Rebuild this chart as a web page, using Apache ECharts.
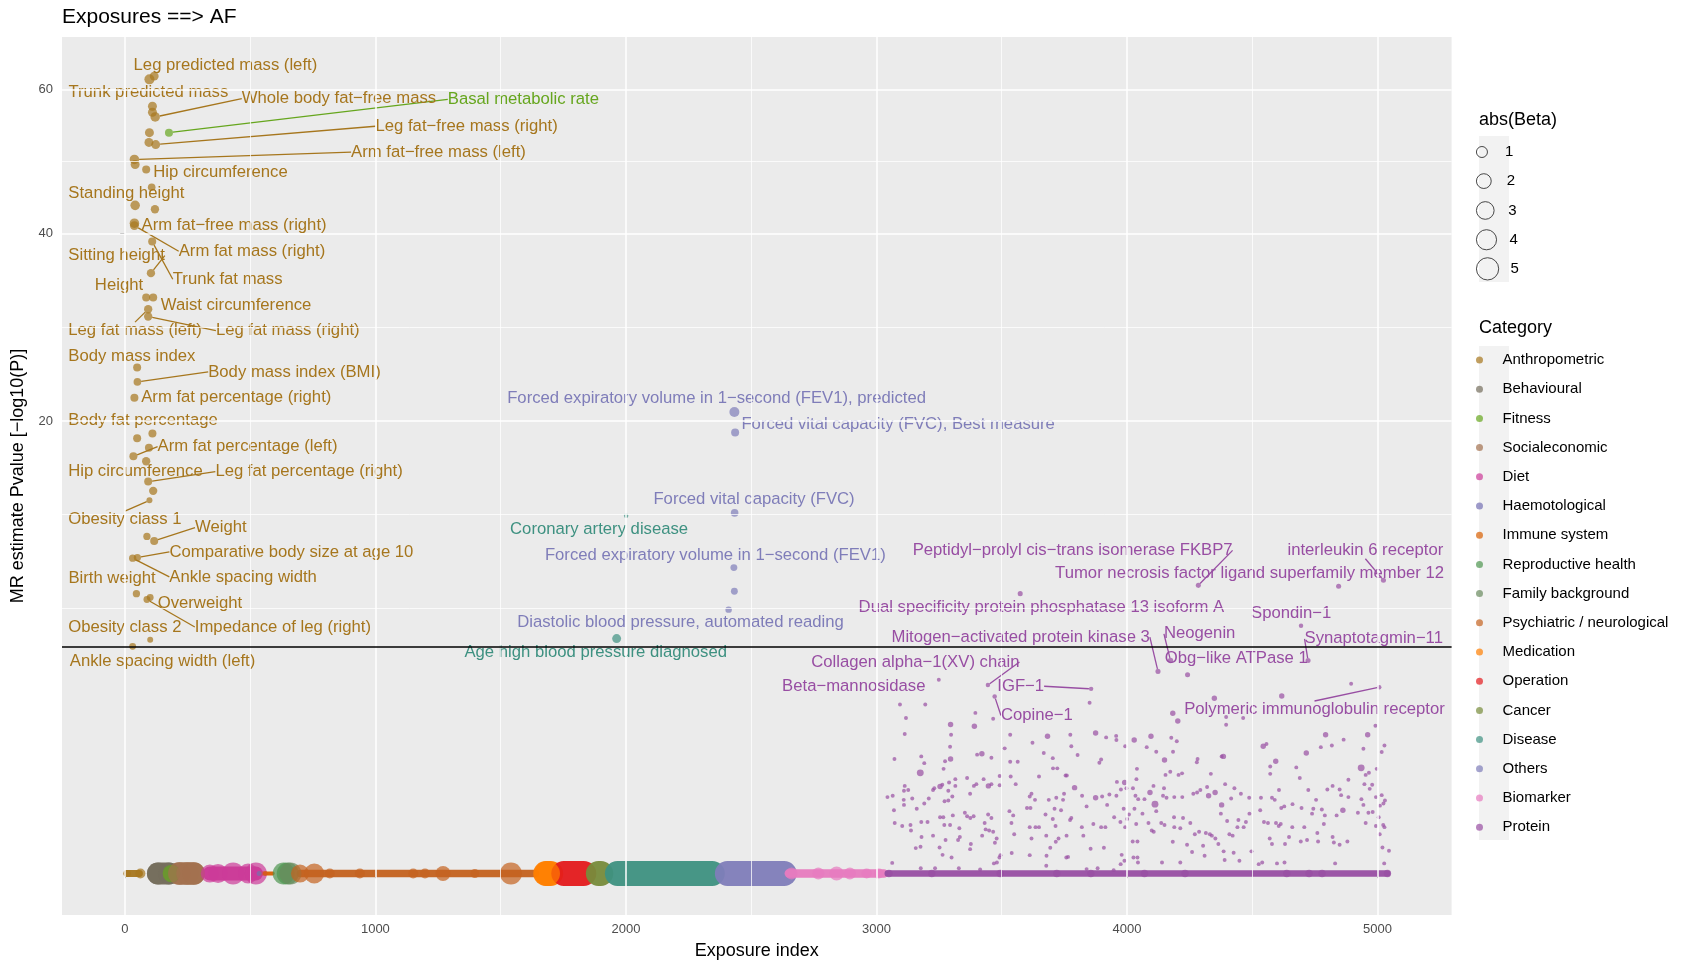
<!DOCTYPE html>
<html><head><meta charset="utf-8">
<script src="https://cdn.jsdelivr.net/npm/echarts@6/dist/echarts.min.js"></script>
<style>html,body{margin:0;padding:0;background:#fff}#chart{width:1690px;height:960px}</style>
</head><body><div id="chart"></div>
<script>
// ---------------- DATA ----------------
const chartTitle = 'Exposures ==> AF';
const categories = ['Anthropometric','Behavioural','Fitness','Socialeconomic','Diet','Haemotological','Immune system','Reproductive health','Family background','Psychiatric / neurological','Medication','Operation','Cancer','Disease','Others','Biomarker','Protein'];
const categoryColors = ['#A6761D','#756D5C','#66A61E','#A2714E','#CC3A98','#7570B3','#D95F02','#4F9550','#6A8A5E','#C4621F','#FF7F00','#E41A1C','#778B3B','#3E9181','#7F7DB9','#E77BBF','#984EA3'];
const xTickLabels = [0, 1000, 2000, 3000, 4000, 5000];
const yTickLabels = [20, 40, 60];
const sizeBreaks = [1, 2, 3, 4, 5];
const threshold = 5; // -log10(P) significance line

// [exposure index, -log10(P), abs(Beta), label]
const anthropometric = [
 [117,62.1,0.6,'Leg predicted mass (left)'],[98,61.6,0.8,''],[110,57.5,0.6,'Trunk predicted mass'],[110,56.6,0.6,''],
 [121,55.9,0.7,'Whole body fat\u2212free mass'],[98,53.6,0.6,''],[96,52.2,0.6,''],[123,51.9,0.6,'Leg fat\u2212free mass (right)'],
 [38,49.8,0.7,'Arm fat\u2212free mass (left)'],[41,49.1,0.6,''],[85,48.4,0.45,'Hip circumference'],[107,46.0,0.4,''],
 [41,43.6,0.7,'Standing height'],[120,43.1,0.5,''],[38,41.3,0.7,'Arm fat\u2212free mass (right)'],[38,41.0,0.6,'Arm fat mass (right)'],
 [109,39.0,0.45,'Trunk fat mass'],[104,35.2,0.5,'Sitting height'],[85,32.4,0.45,'Height'],[113,32.4,0.45,'Waist circumference'],
 [93,31.1,0.5,'Leg fat mass (left)'],[93,30.3,0.5,'Leg fat mass (right)'],[49,25.0,0.45,'Body mass index'],[50,23.6,0.4,'Body mass index (BMI)'],
 [38,22.1,0.45,'Arm fat percentage (right)'],[49,18.5,0.45,'Body fat percentage'],[110,18.9,0.45,''],[96,17.7,0.45,''],
 [34,17.0,0.45,'Arm fat percentage (left)'],[85,16.6,0.5,''],[93,15.0,0.45,'Leg fat percentage (right)'],[113,14.3,0.5,'Hip circumference'],
 [98,13.6,0.2,'Obesity class 1'],[117,10.8,0.45,'Weight'],[88,11.1,0.35,''],[50,9.75,0.35,'Comparative body size at age 10'],
 [31,9.71,0.35,'Ankle spacing width'],[46,7.65,0.35,'Birth weight'],[101,7.44,0.3,'Overweight'],[88,7.33,0.3,'Impedance of leg (right)'],
 [101,5.34,0.2,'Obesity class 2'],[31,5.04,0.3,'Ankle spacing width (left)']
];
const fitness = [[176,53.6,0.45,'Basal metabolic rate']];
const others = [
 [2433,20.8,0.8,'Forced expiratory volume in 1\u2212second (FEV1), predicted'],
 [2436,19.0,0.45,'Forced vital capacity (FVC), Best measure'],
 [2434,12.7,0.4,'Forced vital capacity (FVC)'],
 [2431,9.14,0.3,'Forced expiratory volume in 1\u2212second (FEV1)'],
 [2433,7.78,0.3,''],
 [2410,6.80,0.25,'Diastolic blood pressure, automated reading']
];
const disease = [
 [2001,12.5,0.08,'Coronary artery disease'],
 [1963,5.39,0.6,'Age high blood pressure diagnosed']
];
const proteinLabelled = [
 [4285,8.11,0.12,'Peptidyl\u2212prolyl cis\u2212trans isomerase FKBP7'],
 [4845,8.06,0.12,'Tumor necrosis factor ligand superfamily member 12'],
 [5024,8.40,0.12,'interleukin 6 receptor'],
 [3574,7.65,0.12,'Dual specificity protein phosphatase 13 isoform A'],
 [4695,6.0,0.08,'Spondin\u22121'],
 [4723,4.43,0.12,'Synaptotagmin\u221211'],
 [4124,3.99,0.12,'Mitogen\u2212activated protein kinase 3'],
 [4174,4.43,0.15,'Neogenin'],
 [4242,3.86,0.12,'Obg\u2212like ATPase 1'],
 [3445,3.47,0.08,'Collagen alpha\u22121(XV) chain'],
 [3249,3.67,0.05,'Beta\u2212mannosidase'],
 [3857,3.33,0.08,'IGF\u22121'],
 [3472,3.06,0.08,'Copine\u22121'],
 [5007,3.39,0.08,'Polymeric immunoglobulin receptor']
];
// unlabelled protein exposures [index, -log10(P), abs(Beta)]
const proteinScatter = [
 [3094,2.79,.05],[3195,2.79,.05],[3118,2.36,.05],[3113,1.90,.05],[3072,1.28,.05],[3179,1.34,.05],[3191,1.19,.05],[3175,0.99,.3],
 [3296,2.17,.15],[3298,1.88,.05],[3294,1.57,.05],[3296,1.28,.15],[3274,1.23,.05],[3268,1.07,.05],[3395,2.52,.05],[3391,2.12,.15],
 [3421,1.40,.15],[3402,1.38,.05],[3459,1.31,.05],[3466,2.34,.05],[3534,1.88,.05],[3512,1.53,.05],[3534,1.22,.05],[3564,1.22,.05],
 [3623,1.67,.05],[3683,1.84,.15],[3668,1.42,.05],[3704,1.30,.05],[3705,1.08,.05],[3722,1.08,.05],[3774,1.88,.05],[3778,1.58,.05],
 [3803,1.37,.05],[3851,2.85,.05],[3875,1.93,.15],[3897,1.27,.05],[3890,1.20,.05],[3917,1.81,.05],[3957,1.85,.05],[3958,1.74,.05],
 [3993,1.58,.05],[4029,1.74,.15],[4040,1.07,.05],[4079,1.56,.05],[4096,1.84,.15],[4117,1.45,.05],[4150,1.26,.15],[4177,1.80,.05],
 [4199,1.71,.05],[4184,1.45,.05],[4183,2.51,.15],[4203,2.27,.15],[4173,1.01,.05],[4154,0.95,.05],[4206,0.95,.05],[4220,0.98,.05],
 [4282,1.28,.05],[4279,1.21,.05],[4349,3.00,.15],[4396,2.39,.05],[4396,2.16,.05],[4464,2.36,.05],[4385,1.34,.15],[4378,1.34,.05],
 [4335,0.97,.05],[4544,1.58,.15],[4557,1.64,.05],[4594,1.23,.15],[4572,1.12,.05],[4572,0.97,.05],[4618,3.08,.15],[4676,1.10,.05],
 [4690,0.89,.05],[4716,1.42,.15],[4774,1.56,.05],[4793,1.88,.15],[4818,1.60,.05],[4865,1.75,.05],[4895,3.52,.05],[4961,1.88,.15],
 [4944,1.52,.05],[4992,2.13,.05],[4935,1.09,.3],[4953,0.95,.05],[4966,0.99,.05],[4997,1.07,.05],[5017,1.44,.05],[5028,1.60,.05],
 [3044,.57,.05],[3065,.59,.05],[3113,.75,.05],[3110,.67,.05],[3127,.68,.05],[3109,.53,.05],[3110,.46,.05],[3143,.55,.05],
 [3161,.41,.05],[3191,.48,.05],[3209,.55,.05],[3226,.68,.05],[3231,.71,.05],[3254,.74,.15],[3263,.77,.05],[3287,.67,.05],
 [3272,.51,.05],[3287,.52,.05],[3303,.58,.05],[3315,.87,.05],[3315,.75,.05],[3290,.81,.05],[3362,.89,.05],[3374,.62,.05],
 [3389,.75,.05],[3399,.78,.05],[3428,.87,.05],[3447,.75,.15],[3459,.78,.05],[3492,.93,.05],[3492,.76,.05],[3536,.92,.05],
 [3556,.78,.05],[3546,.33,.05],[3531,.38,.05],[3612,.58,.05],[3619,.62,.05],[3633,.53,.05],[3649,.92,.05],[3601,.42,.05],
 [3615,.42,.05],[3688,.53,.05],[3718,.56,.05],[3711,.41,.05],[3745,.53,.05],[3755,.94,.05],[3749,.62,.05],[3760,.94,.05],
 [3791,.72,.15],[3821,.59,.05],[3839,.44,.05],[3875,.56,.15],[3901,.58,.05],[3921,.46,.05],[3930,.61,.05],[3958,.59,.05],
 [3960,.82,.05],[3991,.81,.15],[3998,.71,.05],[3976,.69,.05],[4024,.71,.05],[3987,.41,.05],[4034,.59,.05],[4038,.87,.05],
 [4030,.41,.05],[4045,.54,.05],[4070,.54,.05],[4092,.64,.15],[4112,.47,.3],[4106,.75,.05],[4148,.71,.05],[4158,.56,.05],
 [4144,.59,.05],[4189,.57,.05],[4221,.57,.05],[4265,.62,.05],[4280,.64,.05],[4293,.68,.05],[4326,.59,.15],[4320,.73,.05],
 [4352,.64,.15],[4378,.46,.15],[4392,.78,.05],[4416,.55,.05],[4429,.71,.05],[4455,.62,.05],[4488,.56,.05],[4535,.56,.05],
 [4579,.56,.05],[4590,.53,.05],[4607,.68,.05],[4616,.42,.05],[4628,.44,.05],[4661,.47,.05],[4697,.42,.05],[4724,.68,.05],
 [4744,.41,.05],[4755,.53,.05],[4778,.40,.05],[4800,.69,.05],[4821,.75,.05],[4837,.33,.05],[4849,.69,.05],[4855,.60,.05],
 [4884,.86,.05],[4884,.57,.05],[4862,.39,.15],[4936,.54,.05],[4948,.78,.05],[4944,.46,.05],[4969,.70,.05],[4979,.77,.05],
 [4994,.57,.05],[5010,.45,.05],[5017,.60,.05],[5030,.52,.05],[5024,.48,.05],
 [3070,.39,.05],[3073,.25,.05],[3103,.22,.05],[3136,.23,.05],[3138,.18,.05],[3157,.063,.05],[3179,.26,.05],[3180,.13,.05],
 [3176,.070,.05],[3204,.26,.05],[3226,.14,.05],[3252,.066,.05],[3254,.31,.05],[3267,.31,.05],[3271,.23,.05],[3276,.11,.05],
 [3264,.034,.05],[3294,.23,.05],[3300,.025,.05],[3305,.33,.05],[3326,.11,.05],[3331,.20,.05],[3333,.13,.05],[3353,.36,.05],
 [3362,.32,.05],[3375,.30,.05],[3388,.32,.05],[3377,.085,.05],[3374,.058,.05],[3422,.14,.05],[3432,.25,.05],[3436,.19,.05],
 [3446,.34,.05],[3459,.30,.05],[3450,.18,.05],[3466,.17,.05],[3473,.092,.05],[3480,.12,.05],[3481,.012,.05],[3491,.025,.05],
 [3540,.041,.05],[3550,.15,.05],[3539,.25,.05],[3612,.21,.05],[3635,.21,.05],[3619,.12,.05],[3649,.21,.05],[3678,.14,.05],
 [3675,.34,.05],[3679,.031,.05],[3694,.065,.05],[3704,.29,.05],[3715,.22,.05],[3716,.099,.05],[3727,.12,.05],[3737,.39,.05],
 [3759,.14,.05],[3765,.027,.05],[3773,.28,.05],[3778,.30,.05],[3820,.21,.05],[3826,.14,.05],[3855,.060,.05],[3866,.24,.05],
 [3897,.21,.05],[3908,.065,.05],[3914,.21,.05],[3949,.31,.05],[3974,.26,.05],[3979,.034,.05],[3993,.21,.05],[4001,.29,.05],
 [4008,.34,.05],[4023,.10,.05],[4037,.24,.05],[4042,.10,.05],[4042,.025,.05],[4062,.35,.05],[4086,.25,.05],[4099,.18,.05],
 [4107,.17,.05],[4117,.38,.05],[4137,.25,.05],[4150,.23,.05],[4183,.099,.05],[4188,.31,.05],[4189,.21,.05],[4213,.20,.05],
 [4224,.30,.05],[4240,.081,.05],[4253,.25,.05],[4260,.045,.05],[4271,.15,.05],[4288,.17,.05],[4304,.075,.05],[4315,.16,.05],
 [4331,.15,.05],[4339,.14,.05],[4353,.12,.05],[4365,.085,.05],[4375,.35,.05],[4386,.048,.05],[4400,.27,.05],[4409,.15,.05],
 [4422,.14,.05],[4426,.042,.05],[4441,.21,.05],[4445,.28,.05],[4466,.21,.05],[4475,.26,.05],[4489,.35,.05],[4497,.048,.05],
 [4532,.39,.05],[4547,.26,.05],[4563,.25,.05],[4570,.12,.05],[4579,.085,.05],[4595,.25,.05],[4606,.22,.05],[4614,.24,.05],
 [4631,.085,.05],[4647,.13,.05],[4660,.21,.05],[4694,.10,.05],[4708,.21,.05],[4719,.11,.05],[4739,.35,.05],[4760,.16,.05],
 [4763,.10,.05],[4786,.24,.05],[4790,.33,.05],[4821,.13,.05],[4826,.094,.05],[4849,.081,.05],[4880,.10,.05],[4922,.36,.05],
 [4953,.25,.05],[4964,.36,.05],[4981,.37,.05],[4994,.22,.05],[5005,.31,.05],[5009,.15,.05],[5020,.066,.05],[5023,.23,.05],
 [5028,.21,.05],[5046,.051,.05],
 [3063,.011,.05],[3177,.0028,.05],[3234,.0028,.05],[3329,.0028,.05],[3414,.0016,.05],[3469,.010,.05],[3495,.033,.05],[3612,.033,.05],
 [3678,.0058,.05],[3758,.025,.05],[3839,.0019,.05],[3883,.0028,.05],[3947,.0011,.05],[3975,.0086,.05],[3990,.016,.05],[4026,.025,.05],
 [4044,.012,.05],[4140,.012,.05],[4213,.012,.05],[4310,.031,.05],[4390,.018,.05],[4449,.016,.05],[4526,.0086,.05],[4540,.012,.05],
 [4599,.010,.05],[4629,.012,.05],[4831,.010,.05],[5027,.010,.05]
];
// dense runs of exposures with -log10(P) ~ 0: [category index, first index, last index, typical abs(Beta)]
const baselineRuns = [
 [0,8,58,0.31],[1,132,176,4.88],[3,217,275,5.07],[4,339,523,1.77],[6,540,590,0.05],[9,700,1640,0.36],
 [10,1680,1700,6.44],[11,1752,1832,6.44],[12,1890,1900,6.44],[13,1966,2345,6.44],[14,2405,2632,6.44],
 [15,2650,3030,0.5],[16,3045,5040,0.24]
];
// individual large-beta exposures at -log10(P) ~ 0: [category index, index, abs(Beta)]
const baselineBlobs = [
 [0,10,0.31],[0,62,0.79],[1,132,4.88],[1,176,4.88],[2,186,3.0],[3,217,5.07],[3,250,5.07],[3,275,5.07],
 [4,339,3.13],[4,372,3.53],[4,432,4.88],[4,492,3.96],[4,523,4.88],[5,536,0.12],[6,560,0.1],
 [7,634,4.88],[7,650,4.88],[8,661,4.88],[9,699,3.13],[9,756,3.96],[9,818,0.79],[9,938,0.79],[9,1151,0.79],
 [9,1198,0.79],[9,1270,2.07],[9,1397,0.61],[9,1541,4.88],[10,1687,6.44],
 [15,2661,1.23],[15,2768,1.23],[15,2841,1.77],[15,2894,1.23],[15,2961,0.79],[15,3010,0.79],
 [16,3050,0.36],[16,3221,0.36],[16,3494,0.36],[16,3720,0.36],[16,3856,0.36],[16,4070,0.36],[16,4232,0.36],
 [16,4638,0.36],[16,4727,0.36],[16,4779,0.36],[16,5040,0.36]
];

// ---------------- LABEL LAYOUT (pixel offsets of label start from the point: dx, dy, segment) ----------------
const anthroLabelPos = [
 [-20.6,-11,0],null,[-84,-13.4,0],null,[86.6,-18.3,1],null,null,[219.8,-18.3,1],[216.7,-7.3,1],null,[7.1,3.3,0],null,
 [-66.8,-11.7,0],null,[7.2,1.7,0],[44.3,25.7,1],[20.6,37.7,1],[-82.6,-17.6,1],[-51.3,-11.7,0],[7.6,8,0],[-79.9,21.4,1],
 [67.7,14,1],[-68.8,-11.6,0],[70.8,-10,1],[6.8,0,0],[-68.8,-17.6,0],null,null,[24.2,-9.7,1],null,[67.2,-10,1],[-85,-19.3,0],
 [-81.1,19.3,1],[40.8,-13.4,1],null,[32,-5.6,1],[36.7,18.7,1],[-68,-15,0],[7.5,5.4,0],[47.9,27.4,1],[-81.9,-12.6,0],[-62.9,14.7,0]
];
const fitnessLabelPos = [[278.8,-33.3,1]];
const othersLabelPos = [[-227.2,-13.4,0],[6.3,-8,0],[-81.2,-13.3,0],[-189,-12.3,0],null,[-211.4,13,0]];
const diseaseLabelPos = [[-116.1,14,0],[-152.2,13.4,0]];
const proteinLabelPos = [[-285.7,-35,1],[-283.5,-12.7,0],[-96,-30,1],[-161.6,13.4,0],[-50,-12,0],[-3.5,-21.7,1],[-266.5,-34.3,1],
 [-6.6,-26.7,1],[-22.8,-16,0],[-176.7,-23,1],[-156.7,6.7,0],[-93.8,-2.6,1],[6.3,19,1],[-195,22.3,1]];

// ---------------- BUILD ----------------
const FONT = '"Liberation Sans", Arial, Helvetica, sans-serif';
const T = v => Math.sqrt(Math.max(v, 0));            // sqrt transform of the y scale
const sizeOf = b => 1.9 + 9.1 * Math.sqrt(b);         // abs(Beta) -> symbol diameter
const X_MIN = -251, X_MAX = 5296, Y_MIN = -0.41, Y_MAX = 8.267;

function minorBreaks(b, lo, hi) {
  const bd = b[1] - b[0];
  const ext = [b[0] - bd].concat(b, [b[b.length - 1] + bd]);
  const out = [];
  for (let i = 0; i < ext.length; i++) {
    out.push(ext[i]);
    if (i < ext.length - 1) out.push((ext[i] + ext[i + 1]) / 2);
  }
  return out.filter(v => v > lo && v < hi && !b.some(m => Math.abs(m - v) < 1e-9));
}
const xMajor = xTickLabels.slice();
const yMajor = yTickLabels.map(T);
const xMinor = minorBreaks(xMajor, X_MIN, X_MAX);
const yMinor = minorBreaks(yMajor, Y_MIN, Y_MAX);

const gridLines = [];
xMinor.forEach(v => gridLines.push({ xAxis: v, lineStyle: { width: 0.75 } }));
yMinor.forEach(v => gridLines.push({ yAxis: v, lineStyle: { width: 0.75 } }));
xMajor.forEach(v => gridLines.push({ xAxis: v, lineStyle: { width: 1.5 } }));
yMajor.forEach(v => gridLines.push({ yAxis: v, lineStyle: { width: 1.5 } }));

const series = [];
series.push({
  type: 'scatter', name: '_grid', data: [], silent: true, z: 1,
  markLine: { silent: true, symbol: 'none', animation: false, label: { show: false },
    lineStyle: { color: '#FFFFFF', type: 'solid' }, emphasis: { disabled: true }, data: gridLines }
});
series.push({
  type: 'custom', name: '_baseline', data: baselineRuns, z: 2, silent: true, clip: true,
  renderItem: function (params, api) {
    const c = api.value(0), a = api.value(1), b = api.value(2), beta = api.value(3);
    const p1 = api.coord([a, 0]), p2 = api.coord([b, 0]);
    return { type: 'line', shape: { x1: p1[0], y1: p1[1], x2: p2[0], y2: p2[1] },
      style: { stroke: categoryColors[c], lineWidth: sizeOf(beta), lineCap: 'round', opacity: 0.95 } };
  }
});

const labelled = { 0: [anthropometric, anthroLabelPos], 2: [fitness, fitnessLabelPos], 13: [disease, diseaseLabelPos],
  14: [others, othersLabelPos], 16: [proteinLabelled, proteinLabelPos] };
const labelPosBySeries = {};

categories.forEach((cat, ci) => {
  const color = categoryColors[ci];
  const data = [], pos = [];
  baselineBlobs.filter(b => b[0] === ci).forEach(b => { data.push({ value: [b[1], 0, b[2]] }); pos.push(null); });
  if (ci === 16) proteinScatter.forEach(p => { data.push({ value: [p[0], T(p[1]), p[2]] }); pos.push(null); });
  if (labelled[ci]) {
    const pts = labelled[ci][0], lp = labelled[ci][1];
    pts.forEach((p, i) => {
      const has = !!p[3];
      data.push({ value: [p[0], T(p[1]), p[2]], name: p[3] || '',
        label: { show: has }, labelLine: { show: !!(has && lp[i] && lp[i][2]) } });
      pos.push(has ? lp[i] : null);
    });
  }
  labelPosBySeries[series.length] = pos;
  series.push({
    type: 'scatter', name: cat, data: data, z: 3,
    symbol: 'circle',
    symbolSize: v => sizeOf(v[2]),
    itemStyle: { color: color, opacity: 0.7 },
    emphasis: { disabled: true },
    label: { show: false, formatter: '{b}', color: color, opacity: 1, fontSize: 16.7, fontFamily: FONT },
    labelLine: { show: false, lineStyle: { color: color, width: 1.3, opacity: 1 } },
    labelLayout: function (p) {
      const arr = labelPosBySeries[p.seriesIndex];
      const off = arr && arr[p.dataIndex];
      if (!off) return {};
      return { x: p.rect.x + p.rect.width / 2 + off[0], y: p.rect.y + p.rect.height / 2 + off[1],
        align: 'left', verticalAlign: 'middle' };
    }
  });
});

series.push({
  type: 'scatter', name: '_threshold', data: [], silent: true, z: 4,
  markLine: { silent: true, symbol: 'none', animation: false, label: { show: false }, emphasis: { disabled: true },
    lineStyle: { color: '#000000', type: 'solid', width: 1.6 }, data: [{ yAxis: T(threshold) }] }
});
sizeBreaks.forEach(s => series.push({ type: 'scatter', name: String(s), data: [] }));

const legends = [{
  data: categories.map(n => ({ name: n })), orient: 'vertical', left: 1476, top: 351, padding: 0,
  itemWidth: 36, itemHeight: 7, itemGap: 11.2, icon: 'circle', selectedMode: false,
  textStyle: { fontSize: 15, lineHeight: 18, color: '#000', fontFamily: FONT }
}];
sizeBreaks.forEach((s, i) => {
  const d = sizeOf(s), h = Math.max(d, 18), cy = 152 + 29.1 * i;
  legends.push({
    data: [{ name: String(s), icon: 'circle', itemStyle: { color: 'rgba(0,0,0,0)', borderColor: '#333', borderWidth: 0.9, opacity: 1 } }],
    orient: 'vertical', left: 1476, top: cy - h / 2, padding: 0, itemWidth: 36, itemHeight: d,
    selectedMode: false, textStyle: { fontSize: 15, lineHeight: 18, color: '#000', fontFamily: FONT }
  });
});

const option = {
  animation: false,
  backgroundColor: '#FFFFFF',
  textStyle: { fontFamily: FONT },
  title: [
    { text: chartTitle, left: 62, top: 5, padding: 0, textStyle: { fontSize: 21, lineHeight: 25, fontWeight: 'normal', color: '#000', fontFamily: FONT } },
    { text: 'abs(Beta)', left: 1479, top: 109.7, padding: 0, textStyle: { fontSize: 18, lineHeight: 20, fontWeight: 'normal', color: '#000', fontFamily: FONT } },
    { text: 'Category', left: 1479, top: 318.5, padding: 0, textStyle: { fontSize: 18, lineHeight: 20, fontWeight: 'normal', color: '#000', fontFamily: FONT } }
  ],
  graphic: [
    { type: 'rect', shape: { x: 1479, y: 136, width: 30, height: 146 }, style: { fill: '#F2F2F2' }, z: 0, silent: true },
    { type: 'rect', shape: { x: 1479, y: 346, width: 30, height: 494 }, style: { fill: '#F2F2F2' }, z: 0, silent: true }
  ],
  legend: legends,
  grid: { left: 62, right: 238.4, top: 37, bottom: 45, show: true, backgroundColor: '#EBEBEB', borderWidth: 0,
    containLabel: false, outerBoundsMode: 'none' },
  xAxis: {
    type: 'value', min: X_MIN, max: X_MAX,
    name: 'Exposure index', nameLocation: 'middle', nameGap: 23.5,
    nameTextStyle: { fontSize: 18, lineHeight: 20, color: '#000', fontFamily: FONT },
    axisLine: { show: false },
    axisTick: { show: true, customValues: xTickLabels, length: 4.7, lineStyle: { color: '#333', width: 1 } },
    axisLabel: { customValues: xTickLabels, formatter: v => String(v), color: '#4D4D4D', fontSize: 13, margin: 8, fontFamily: FONT },
    splitLine: { show: false }, minorSplitLine: { show: false }
  },
  yAxis: {
    type: 'value', min: Y_MIN, max: Y_MAX,
    name: 'MR estimate Pvalue [\u2212log10(P)]', nameLocation: 'middle', nameGap: 30.4, nameRotate: 90,
    nameTextStyle: { fontSize: 18, lineHeight: 20, color: '#000', fontFamily: FONT },
    axisLine: { show: false },
    axisTick: { show: true, customValues: yMajor, length: 4.7, lineStyle: { color: '#333', width: 1 } },
    axisLabel: { customValues: yMajor, formatter: v => String(Math.round(v * v)), color: '#4D4D4D', fontSize: 13, margin: 9, fontFamily: FONT },
    splitLine: { show: false }
  },
  series: series
};

const chart = echarts.init(document.getElementById('chart'), null, { renderer: 'canvas' });
chart.setOption(option);
</script>
</body></html>
